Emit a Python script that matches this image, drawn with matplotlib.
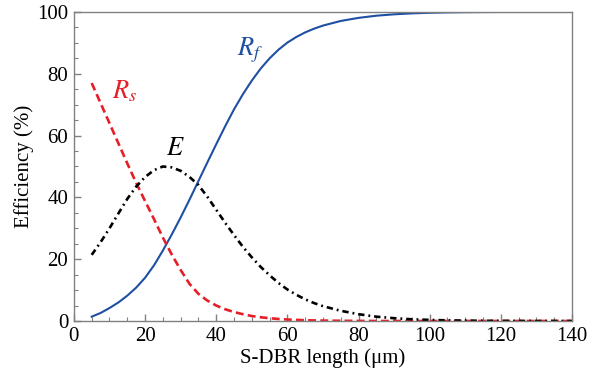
import matplotlib
matplotlib.use("Agg")
import matplotlib.pyplot as plt
from matplotlib.ticker import MultipleLocator

# S-DBR length (um)
length = [5, 7.5, 10, 12.5, 15, 17.5, 20, 22.5, 25, 27.5, 30, 32.5, 35, 37.5, 40,
          42.5, 45, 47.5, 50, 52.5, 55, 57.5, 60, 62.5, 65, 67.5, 70, 75, 80, 85,
          90, 95, 100, 105, 110, 115, 120, 125, 130, 135, 140]
Rf = [1.4, 2.6, 4.2, 6.0, 8.2, 10.8, 14.0, 18.0, 22.8, 28.0, 33.5, 39.3, 45.3, 51.3,
      57.2, 63.0, 68.5, 73.4, 77.8, 81.7, 85.0, 87.8, 90.1, 91.9, 93.4, 94.6, 95.6,
      97.1, 98.1, 98.8, 99.25, 99.55, 99.75, 99.87, 99.94, 99.97, 100, 100, 100,
      100, 100]
Rs = [77.0, 70.5, 64.0, 57.5, 51.0, 44.7, 38.8, 33.0, 27.0, 21.5, 16.5, 12.0, 8.8,
      6.6, 5.0, 3.8, 2.9, 2.2, 1.6, 1.2, 0.9, 0.65, 0.48, 0.36, 0.25, 0.18, 0.13,
      0.07, 0.03, 0, 0, 0, 0, 0, 0, 0, 0, 0, 0, 0, 0]
E = [21.4, 25.5, 30.0, 34.8, 39.5, 43.5, 46.6, 48.8, 50.0, 49.7, 48.6, 46.6, 44.0,
     40.2, 36.0, 31.8, 27.8, 24.0, 20.6, 17.5, 14.8, 12.3, 10.2, 8.5, 7.0, 5.8, 4.8,
     3.3, 2.2, 1.4, 0.9, 0.55, 0.35, 0.2, 0.12, 0.07, 0.04, 0.02, 0.01, 0.005, 0.0]

plt.rcParams['font.family'] = ['Liberation Serif', 'DejaVu Serif']
plt.rcParams['mathtext.fontset'] = 'stix'

fig = plt.figure(figsize=(6.16, 3.82), dpi=100)
ax = fig.add_axes([0.120, 0.1597, 0.8086, 0.8089])

blue = '#1f4fa3'
red = '#e61e28'
ax.plot(length, Rf, color=blue, lw=1.5, solid_joinstyle='round')
ax.plot(length, Rs, color=red, lw=1.9, linestyle=(0, (3.0, 1.6)))
ax.plot(length, E, color='black', lw=1.9, linestyle=(0, (2.4, 1.5, 0.7, 1.5)))

ax.text(49.5, 87.5, r'$R_f$', color=blue, fontsize=19, ha='center', va='center')
ax.text(14.3, 74.5, r'$R_s$', color=red, fontsize=19, ha='center', va='center')
ax.text(28.4, 55.5, r'$E$', color='black', fontsize=19, ha='center', va='center')

ax.set_xlim(0, 140)
ax.set_ylim(0, 100)
ax.xaxis.set_major_locator(MultipleLocator(20))
ax.xaxis.set_minor_locator(MultipleLocator(5))
ax.yaxis.set_major_locator(MultipleLocator(20))
ax.yaxis.set_minor_locator(MultipleLocator(5))

spc = '#808080'
for s in ax.spines.values():
    s.set_color(spc)
    s.set_linewidth(1.0)
ax.tick_params(which='both', direction='in', color=spc, top=False, right=False,
               labelsize=15, labelcolor='black')
ax.tick_params(which='major', length=5, width=1.0, pad=4)
ax.tick_params(which='minor', length=3, width=0.8)

ax.set_xlabel('S-DBR length (μm)', fontsize=15, labelpad=2)
ax.set_ylabel('Efficiency (%)', fontsize=15, labelpad=2)

fig.savefig('out.png', dpi=100)
